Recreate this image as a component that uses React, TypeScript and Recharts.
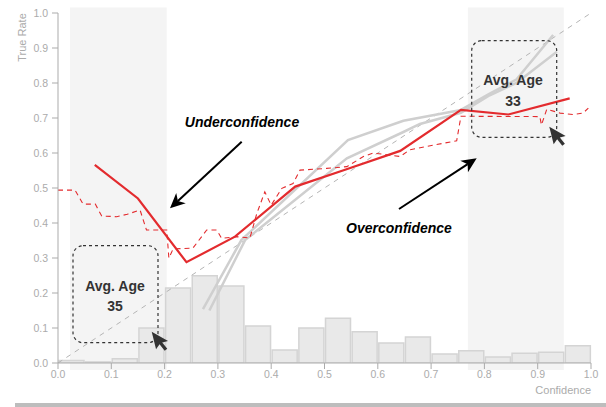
import React from 'react';
import { ComposedChart, Line, Bar, XAxis, YAxis, ReferenceArea } from 'recharts';

// histogram of confidence (bin start -> share of samples)
const binStarts = [0, 0.05, 0.1, 0.15, 0.2, 0.25, 0.3, 0.35, 0.4, 0.45, 0.5, 0.55, 0.6, 0.65, 0.7, 0.75, 0.8, 0.85, 0.9, 0.95];
const binHeights = [0.007, 0.003, 0.012, 0.1, 0.214, 0.249, 0.22, 0.106, 0.037, 0.1, 0.128, 0.089, 0.057, 0.074, 0.026, 0.035, 0.017, 0.028, 0.031, 0.049];

// binned calibration curve (solid red)
const calibX = [0.069, 0.15, 0.241, 0.332, 0.445, 0.54, 0.642, 0.756, 0.845, 0.96];
const calibY = [0.566, 0.47, 0.288, 0.361, 0.504, 0.553, 0.606, 0.723, 0.71, 0.756];

// running-window calibration (dashed red)
const runningX = [0, 0.032, 0.047, 0.07, 0.082, 0.11, 0.13, 0.154, 0.166, 0.204, 0.208, 0.216, 0.253, 0.279, 0.298, 0.307, 0.335, 0.36, 0.373, 0.388, 0.4, 0.42, 0.441, 0.454, 0.504, 0.542, 0.573, 0.591, 0.642, 0.66, 0.689, 0.748, 0.756, 0.904, 0.907, 0.917, 0.942, 0.966, 0.985, 0.995];
const runningY = [0.494, 0.494, 0.454, 0.454, 0.42, 0.418, 0.425, 0.437, 0.38, 0.38, 0.3, 0.326, 0.328, 0.38, 0.38, 0.356, 0.361, 0.357, 0.427, 0.489, 0.451, 0.499, 0.513, 0.551, 0.556, 0.561, 0.59, 0.6, 0.59, 0.609, 0.618, 0.635, 0.705, 0.704, 0.68, 0.725, 0.714, 0.71, 0.714, 0.728];

// other subgroups (light gray)
const groupAX = [0.272, 0.344, 0.544, 0.648, 0.756, 0.81, 0.86, 0.929];
const groupAY = [0.154, 0.351, 0.637, 0.692, 0.723, 0.77, 0.81, 0.937];
const groupBX = [0.284, 0.351, 0.542, 0.648, 0.679, 0.756, 0.81, 0.86, 0.936];
const groupBY = [0.15, 0.351, 0.585, 0.66, 0.683, 0.715, 0.765, 0.8, 0.889];

const diagX = [0, 1];
const diagY = [0, 1];

const ticks = [0, 0.1, 0.2, 0.3, 0.4, 0.5, 0.6, 0.7, 0.8, 0.9, 1.0];

// highlighted confidence ranges
const highlightFrom = [0.0225, 0.769];
const highlightTo = [0.204, 0.949];

const toPoints = (xs: number[], ys: number[]) => xs.map((x, i) => ({ x, y: ys[i] }));

const histData = binStarts.map((b, i) => ({ bin: b, share: binHeights[i] }));

const RED = '#e32b2e';
const AXIS = '#ababab';
const INK = '#333333';
const FONT = '"Liberation Sans", Arial, sans-serif';

const arrow = (x1: number, y1: number, x2: number, y2: number) => {
  const dx = x2 - x1;
  const dy = y2 - y1;
  const len = Math.sqrt(dx * dx + dy * dy);
  const ux = dx / len;
  const uy = dy / len;
  const hl = 15;
  const hw = 7;
  const bx = x2 - ux * hl;
  const by = y2 - uy * hl;
  const nx = x2 - ux * hl * 0.72;
  const ny = y2 - uy * hl * 0.72;
  const pts = [
    [x2, y2],
    [bx - uy * hw, by + ux * hw],
    [nx, ny],
    [bx + uy * hw, by - ux * hw],
  ].map((p) => p.join(',')).join(' ');
  return (
    <g>
      <line x1={x1} y1={y1} x2={nx} y2={ny} stroke="#000" strokeWidth={2} />
      <polygon points={pts} fill="#000" />
    </g>
  );
};

const cursor = (x: number, y: number) => {
  const pts = [[0, 0], [0, 18], [4.6, 14], [8, 21.5], [11, 20.3], [7.6, 13], [13.6, 13]]
    .map(([a, b]) => `${x + a},${y + b}`).join(' ');
  return <polygon points={pts} fill={INK} transform={`rotate(-14 ${x} ${y})`} />;
};

const Annotations = () => (
  <svg width={606} height={407} style={{ position: 'absolute', left: 0, top: 0, pointerEvents: 'none' }} fontFamily={FONT}>
    <text x={21.7} y={37.5} transform="rotate(-90 21.7 37.5)" textAnchor="middle" dominantBaseline="central" fontSize={11} fill={AXIS}>True Rate</text>
    <text x={591} y={394} textAnchor="end" fontSize={11} fill={AXIS}>Confidence</text>

    <text x={242} y={127} textAnchor="middle" fontSize={14} fontWeight="bold" fontStyle="italic" fill="#000">Underconfidence</text>
    {arrow(241.7, 141.7, 170, 208.3)}
    <text x={399} y={232.7} textAnchor="middle" fontSize={14} fontWeight="bold" fontStyle="italic" fill="#000">Overconfidence</text>
    {arrow(399, 209, 476.7, 158.3)}

    <rect x={73} y={245.7} width={85} height={97} rx={10} fill="none" stroke={INK} strokeWidth={1.2} strokeDasharray="3 3" />
    <text x={115} y={290.7} textAnchor="middle" fontSize={14} fontWeight="bold" fill={INK}>Avg. Age</text>
    <text x={115} y={310.7} textAnchor="middle" fontSize={14} fontWeight="bold" fill={INK}>35</text>
    {cursor(151.7, 331.7)}

    <rect x={471.7} y={40.7} width={85} height={96.6} rx={10} fill="none" stroke={INK} strokeWidth={1.2} strokeDasharray="3 3" />
    <text x={513} y={85} textAnchor="middle" fontSize={14} fontWeight="bold" fill={INK}>Avg. Age</text>
    <text x={513} y={105.5} textAnchor="middle" fontSize={14} fontWeight="bold" fill={INK}>33</text>
    {cursor(549.3, 126.7)}

    <rect x={15} y={403} width={591} height={4} fill="#bdbdbd" />
  </svg>
);

const App: React.FC = () => {
  return (
    <div style={{ position: 'absolute', left: 0, top: 0, width: 606, height: 407, background: '#fff', fontFamily: FONT }}>
      <ComposedChart
        width={606}
        height={407}
        data={histData}
        margin={{ top: 13, right: 15, bottom: 0, left: 0 }}
        barCategoryGap={1}
      >
        {highlightFrom.map((from, i) => (
          <ReferenceArea
            key={`hl-${i}`}
            xAxisId="num"
            x1={from}
            x2={highlightTo[i]}
            y1={-0.02}
            y2={1.016}
            ifOverflow="visible"
            fill="#f4f4f4"
            fillOpacity={1}
            stroke="none"
          />
        ))}
        <XAxis
          xAxisId="num"
          dataKey="x"
          type="number"
          domain={[0, 1]}
          ticks={ticks}
          allowDataOverflow
          height={44}
          stroke={AXIS}
          tick={{ fill: AXIS, fontSize: 10.5 }}
          tickFormatter={(v: number) => v.toFixed(1)}
        />
        <XAxis xAxisId="bins" dataKey="bin" type="category" orientation="top" height={0} hide />
        <YAxis
          type="number"
          domain={[0, 1]}
          ticks={ticks}
          allowDataOverflow
          width={58}
          stroke={AXIS}
          tickMargin={4}
          tick={{ fill: AXIS, fontSize: 10.5 }}
          tickFormatter={(v: number) => v.toFixed(1)}
        />
        <Bar xAxisId="bins" dataKey="share" fill="#e9e9e9" stroke="#d4d4d4" strokeWidth={1.5} isAnimationActive={false} />
        <Line xAxisId="num" data={toPoints(diagX, diagY)} dataKey="y" stroke="#b5b5b5" strokeWidth={1} strokeDasharray="5 5" dot={false} isAnimationActive={false} />
        <Line xAxisId="num" data={toPoints(groupAX, groupAY)} dataKey="y" stroke="#cfcfcf" strokeWidth={2.5} dot={false} isAnimationActive={false} />
        <Line xAxisId="num" data={toPoints(groupBX, groupBY)} dataKey="y" stroke="#cfcfcf" strokeWidth={2.5} dot={false} isAnimationActive={false} />
        <Line xAxisId="num" data={toPoints(runningX, runningY)} dataKey="y" stroke={RED} strokeWidth={1.1} strokeDasharray="5 4" dot={false} isAnimationActive={false} />
        <Line xAxisId="num" data={toPoints(calibX, calibY)} dataKey="y" stroke={RED} strokeWidth={2.2} dot={false} isAnimationActive={false} />
      </ComposedChart>
      <Annotations />
    </div>
  );
};

export default App;
